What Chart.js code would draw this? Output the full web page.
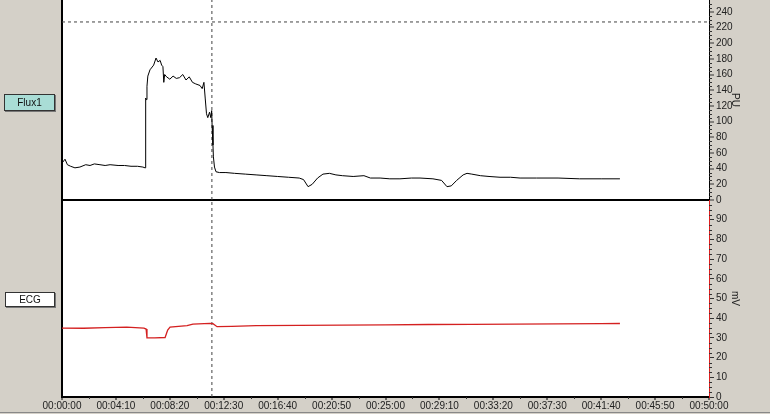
<!DOCTYPE html>
<html><head><meta charset="utf-8">
<script src="https://cdn.jsdelivr.net/npm/chart.js@4"></script>
<style>
html,body{margin:0;padding:0;background:#d4d0c8;}
#wrap{position:relative;width:770px;height:414px;background:#d4d0c8;overflow:hidden;}
#c{position:absolute;left:0;top:0;}
.btn{position:absolute;font:10px "Liberation Sans",Arial,sans-serif;color:#111;text-align:center;box-sizing:border-box;border:1px solid #333;box-shadow:1px 1px 0 #777;}
#b1{left:4px;top:94px;width:51px;height:17px;line-height:15px;background:#a9ddd6;}
#b2{left:5px;top:292px;width:50px;height:15px;line-height:13px;background:#fff;}
</style></head>
<body><div id="wrap"><canvas id="c" width="770" height="414"></canvas>
<div class="btn" id="b1">Flux1</div><div class="btn" id="b2">ECG</div></div>
<script>
// ---- data (time in seconds) ----
const fluxTime  = [0,14,25,40,60,83,110,130,150,176,200,223,260,290,320,350,375,385,387,389,391,394,398,408,425,436,445,455,462,468,472,476,485,500,515,530,545,560,575,590,605,620,640,650,658,664,670,676,684,690,694,696,700,702,707,714,730,760,800,850,900,950,1000,1050,1100,1120,1141,1160,1185,1210,1240,1270,1300,1350,1400,1430,1475,1520,1567,1620,1660,1720,1760,1785,1805,1830,1860,1878,1900,1940,1980,2031,2080,2124,2200,2300,2400,2500,2587];
const fluxValue = [47,52,45,43,41,42,45,44,46,45,44,45,44,44,43,43,42,41,60,130,128,145,158,166,172,181,176,178,172,170,150,160,157,154,158,155,156,160,153,157,150,148,146,142,150,130,110,105,112,105,114,95,70,55,42,36,35,35,34,33,32,31,30,29,28,26,17,20,28,33,34,32,31,30,31,28,28,27,27,28,28,27,25,17,18,25,32,34,33,31,30,29,29,28,28,28,27,27,27];
const ecgTime   = [0,100,200,300,380,390,394,430,478,490,501,580,607,686,700,719,788,900,1100,1300,1500,1700,1900,2100,2300,2500,2587];
const ecgValue  = [35,34.9,35.2,35.5,35,34.5,30,30,30.2,34,35.5,36.2,37,37.4,37.2,35.7,35.8,36.2,36.4,36.5,36.6,36.8,36.9,37,37.1,37.2,37.3];
const cursorTime = 695;
const fluxLimit = 227;
const fluxTicks = [0,20,40,60,80,100,120,140,160,180,200,220,240];
const ecgTicks  = [0,10,20,30,40,50,60,70,80,90];
const xTickValues = [0,250,500,750,1000,1250,1500,1750,2000,2250,2500,2750,3000];
const xTickLabels = ["00:00:00","00:04:10","00:08:20","00:12:30","00:16:40","00:20:50","00:25:00","00:29:10","00:33:20","00:37:30","00:41:40","00:45:50","00:50:00"];
const fluxUnit = "PU", ecgUnit = "mV";

const FONT = {family:'"Liberation Sans", Arial, sans-serif', size:10};
const pts = (t,v)=>t.map((x,i)=>({x, y:v[i]}));

const bgPlugin = {
  id:'bg',
  beforeDraw(chart){
    const {ctx, chartArea:a} = chart;
    ctx.save();
    ctx.fillStyle='#d4d0c8'; ctx.fillRect(0,0,chart.width,chart.height);
    ctx.fillStyle='#fff'; ctx.fillRect(a.left,a.top,a.right-a.left,a.bottom-a.top);
    ctx.strokeStyle='#888'; ctx.lineWidth=1;
    ctx.beginPath(); ctx.moveTo(0,chart.height-1.5); ctx.lineTo(chart.width,chart.height-1.5); ctx.stroke();
    ctx.restore();
  },
  afterDraw(chart){
    const ctx = chart.ctx, s = chart.scales;
    ctx.save(); ctx.lineWidth=1;
    ctx.strokeStyle='#333';
    for(let v=5; v<255; v+=5){ if(v%20===0) continue;
      const y=Math.round(s.y1.getPixelForValue(v))+0.5;
      ctx.beginPath(); ctx.moveTo(s.y1.left,y); ctx.lineTo(s.y1.left+3,y); ctx.stroke(); }
    for(let v=2.5; v<100; v+=2.5){ if(v%10===0) continue;
      const y=Math.round(s.y2.getPixelForValue(v))+0.5;
      ctx.beginPath(); ctx.moveTo(s.y2.left,y); ctx.lineTo(s.y2.left+3,y); ctx.stroke(); }
    for(let v=125; v<3000; v+=250){
      const x=Math.round(s.x.getPixelForValue(v))+0.5;
      ctx.beginPath(); ctx.moveTo(x,s.x.top); ctx.lineTo(x,s.x.top+2); ctx.stroke(); }
    ctx.restore();
  }
};

function noPad(sc){ sc.paddingTop=0; sc.paddingBottom=0; sc.paddingLeft=0; sc.paddingRight=0; }

new Chart(document.getElementById('c'), {
  type:'line',
  data:{datasets:[
    {data:pts(fluxTime,fluxValue), yAxisID:'y1', borderColor:'#000', borderWidth:1, pointRadius:0, tension:0},
    {data:pts(ecgTime,ecgValue), yAxisID:'y2', borderColor:'#d42020', borderWidth:1.3, pointRadius:0, tension:0},
    {data:[{x:0,y:fluxLimit},{x:3000,y:fluxLimit}], yAxisID:'y1', borderColor:'#444', borderWidth:1, borderDash:[3,3], pointRadius:0},
    {data:[{x:cursorTime,y:0},{x:cursorTime,y:255}], yAxisID:'y1', borderColor:'#444', borderWidth:1, borderDash:[3,3], pointRadius:0},
    {data:[{x:cursorTime,y:0},{x:cursorTime,y:100}], yAxisID:'y2', borderColor:'#444', borderWidth:1, borderDash:[3,3], pointRadius:0}
  ]},
  options:{
    responsive:false, animation:false, events:[],
    layout:{padding:{left:62,right:29,top:0,bottom:0}},
    plugins:{legend:{display:false}, tooltip:{enabled:false}},
    scales:{
      x:{type:'linear', min:0, max:3000, position:'bottom',
        afterBuildTicks(sc){ sc.ticks = xTickValues.map(v=>({value:v})); },
        afterFit(sc){ sc.height=17; noPad(sc); },
        ticks:{font:FONT, color:'#222', maxRotation:0, autoSkip:false, padding:0,
          callback:(v,i)=>xTickLabels[i]},
        grid:{drawOnChartArea:true, color:c=>c.tick && c.tick.value===0?'#000':'rgba(0,0,0,0)', lineWidth:2, tickLength:3, tickColor:'#000', tickWidth:1},
        border:{display:true, color:'#000', width:2}
      },
      y1:{type:'linear', position:'right', stack:'p', stackWeight:200, min:0, max:255,
        afterBuildTicks(sc){ sc.ticks = fluxTicks.map(v=>({value:v})); },
        afterFit(sc){ sc.width=32; noPad(sc); },
        ticks:{font:FONT, color:'#222', padding:2, autoSkip:false},
        grid:{drawOnChartArea:true, color:c=>c.tick && c.tick.value===0?'#000':'rgba(0,0,0,0)', lineWidth:2, tickLength:5, tickColor:'#333', tickWidth:1},
        border:{display:true, color:'#000', width:1},
        title:{display:true, text:fluxUnit, font:FONT, color:'#222', padding:{top:0,bottom:0}}
      },
      y2:{type:'linear', position:'right', stack:'p', stackWeight:197, min:0, max:100,
        afterBuildTicks(sc){ sc.ticks = ecgTicks.map(v=>({value:v})); },
        afterFit(sc){ sc.width=32; noPad(sc); },
        ticks:{font:FONT, color:'#222', padding:2, autoSkip:false},
        grid:{drawOnChartArea:false, tickLength:5, tickColor:'#333', tickWidth:1},
        border:{display:true, color:'#e02020', width:1},
        title:{display:true, text:ecgUnit, font:FONT, color:'#222', padding:{top:0,bottom:0}}
      }
    }
  },
  plugins:[bgPlugin]
});
</script></body></html>
